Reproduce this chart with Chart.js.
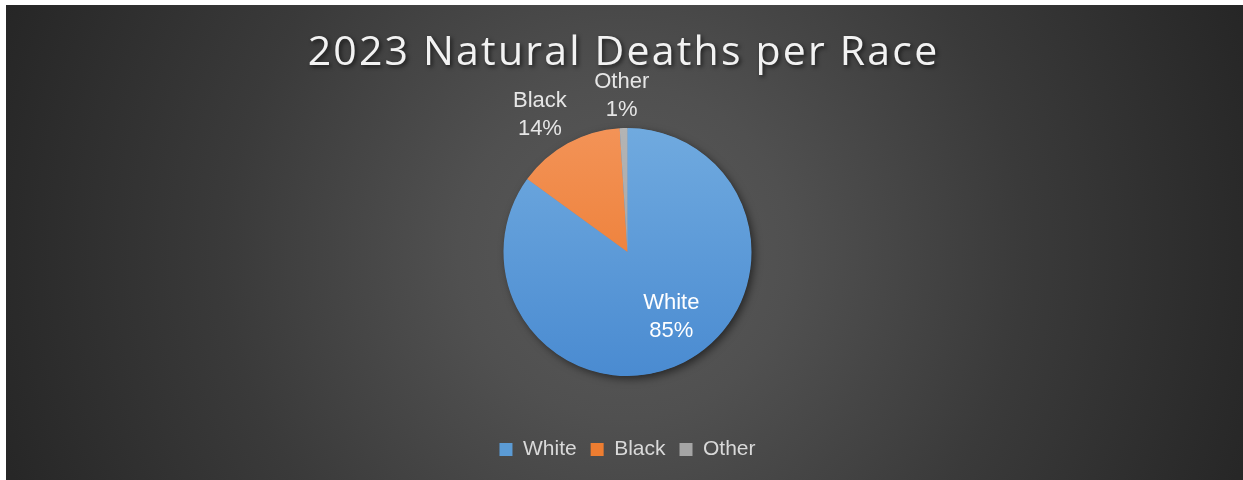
<!DOCTYPE html>
<html><head><meta charset="utf-8">
<script src="https://cdn.jsdelivr.net/npm/chart.js@4.4.1/dist/chart.umd.min.js"></script>
<style>
html,body{margin:0;padding:0;background:#fff;width:1243px;height:480px;overflow:hidden}
#wrap{position:absolute;left:6px;top:5px;width:1237px;height:475px;
background:radial-gradient(circle farthest-corner at 50% 52%, #5a5a5a 0%, #505050 25%, #3a3a3a 60%, #262626 100%);}
canvas{display:block}
</style></head><body>
<div id="wrap"><canvas id="c" width="1237" height="475"></canvas></div>
<script>
const chartTitle = '2023 Natural Deaths per Race';
const categories = ['White', 'Black', 'Other'];
const percentages = [85, 14, 1];
const baseColors = ['#5b9bd5', '#ed7d31', '#a5a5a5'];
const topColors = ['#70aadf', '#f39357', '#b4b4b4'];
const bottomColors = ['#4a8bd1', '#ea7426', '#9e9e9e'];

const PIE_R = 124;
const FONT = '"Liberation Sans", Arial, sans-serif';

function sliceFill(ctx) {
  const chart = ctx.chart;
  const a = chart.chartArea;
  const i = ctx.dataIndex;
  if (!a) return baseColors[i];
  const cy = (a.top + a.bottom) / 2;
  const g = chart.ctx.createLinearGradient(0, cy - PIE_R, 0, cy + PIE_R);
  g.addColorStop(0, topColors[i]);
  g.addColorStop(1, bottomColors[i]);
  return g;
}

const shadowPlugin = {
  id: 'pieShadow',
  beforeDatasetsDraw(chart) {
    const meta = chart.getDatasetMeta(0);
    const arc = meta.data[0];
    if (!arc) return;
    const c = chart.ctx;
    c.save();
    c.shadowColor = 'rgba(0,0,0,0.55)';
    c.shadowBlur = 9;
    c.shadowOffsetX = 3;
    c.shadowOffsetY = 3;
    c.fillStyle = '#4f8fd0';
    c.beginPath();
    c.arc(arc.x, arc.y, arc.outerRadius - 0.5, 0, Math.PI * 2);
    c.fill();
    c.restore();
  }
};

const clamp = (v) => Math.max(-1, Math.min(1, v));

const labelPlugin = {
  id: 'sliceLabels',
  afterDatasetsDraw(chart) {
    const meta = chart.getDatasetMeta(0);
    const total = percentages.reduce((s, v) => s + v, 0);
    const c = chart.ctx;
    c.save();
    c.font = '22px ' + FONT;
    c.textAlign = 'center';
    c.textBaseline = 'middle';
    const lineGap = 14;
    meta.data.forEach((arc, i) => {
      const frac = percentages[i] / total;
      const mid = (arc.startAngle + arc.endAngle) / 2;
      const line1 = categories[i];
      const line2 = Math.round(frac * 100) + '%';
      let x, y;
      if (frac > 0.3) {
        x = arc.x + Math.cos(mid) * arc.outerRadius * 0.6 + 10;
        y = arc.y + Math.sin(mid) * arc.outerRadius * 0.6 - 1;
        c.fillStyle = '#ffffff';
      } else {
        const w = Math.max(c.measureText(line1).width, c.measureText(line2).width);
        const h = 2 * lineGap * 2;
        const ax = arc.x + Math.cos(mid) * (arc.outerRadius + 4);
        const ay = arc.y + Math.sin(mid) * (arc.outerRadius + 4);
        x = ax + clamp(Math.cos(mid) * 2) * w / 2;
        y = ay + clamp(Math.sin(mid) * 2) * h / 2 + (Math.abs(Math.cos(mid)) > 0.3 ? 3 : 0);
        c.fillStyle = '#e6e6e6';
      }
      c.fillText(line1, x, y - lineGap);
      c.fillText(line2, x, y + lineGap);
    });
    c.restore();
  }
};

const titlePlugin = {
  id: 'shadowTitle',
  afterDraw(chart) {
    const c = chart.ctx;
    c.save();
    c.font = '500 41px "Open Sans", sans-serif';
    c.letterSpacing = '2.2px';
    c.textAlign = 'center';
    c.textBaseline = 'alphabetic';
    c.shadowColor = 'rgba(0,0,0,0.6)';
    c.shadowBlur = 4;
    c.shadowOffsetX = 2;
    c.shadowOffsetY = 2;
    c.fillStyle = '#f2f2f2';
    c.fillText(chartTitle, chart.width / 2 - 1, 60);
    c.restore();
  }
};

new Chart(document.getElementById('c'), {
  type: 'pie',
  data: {
    labels: categories,
    datasets: [{
      data: percentages,
      backgroundColor: sliceFill,
      borderWidth: 0,
      radius: PIE_R
    }]
  },
  options: {
    responsive: false,
    animation: false,
    layout: { padding: { top: 74, bottom: 10, left: 6, right: 0 } },
    plugins: {
      title: { display: false },
      tooltip: { enabled: false },
      legend: {
        position: 'bottom',
        labels: {
          color: '#d9d9d9',
          font: { family: FONT, size: 21 },
          boxWidth: 13,
          boxHeight: 13,
          padding: 14,
          generateLabels(chart) {
            return categories.map((name, i) => ({
              text: name,
              fillStyle: baseColors[i],
              strokeStyle: baseColors[i],
              lineWidth: 0,
              fontColor: '#d9d9d9',
              hidden: false,
              index: i
            }));
          }
        }
      }
    }
  },
  plugins: [shadowPlugin, labelPlugin, titlePlugin]
});
</script>
</body></html>
